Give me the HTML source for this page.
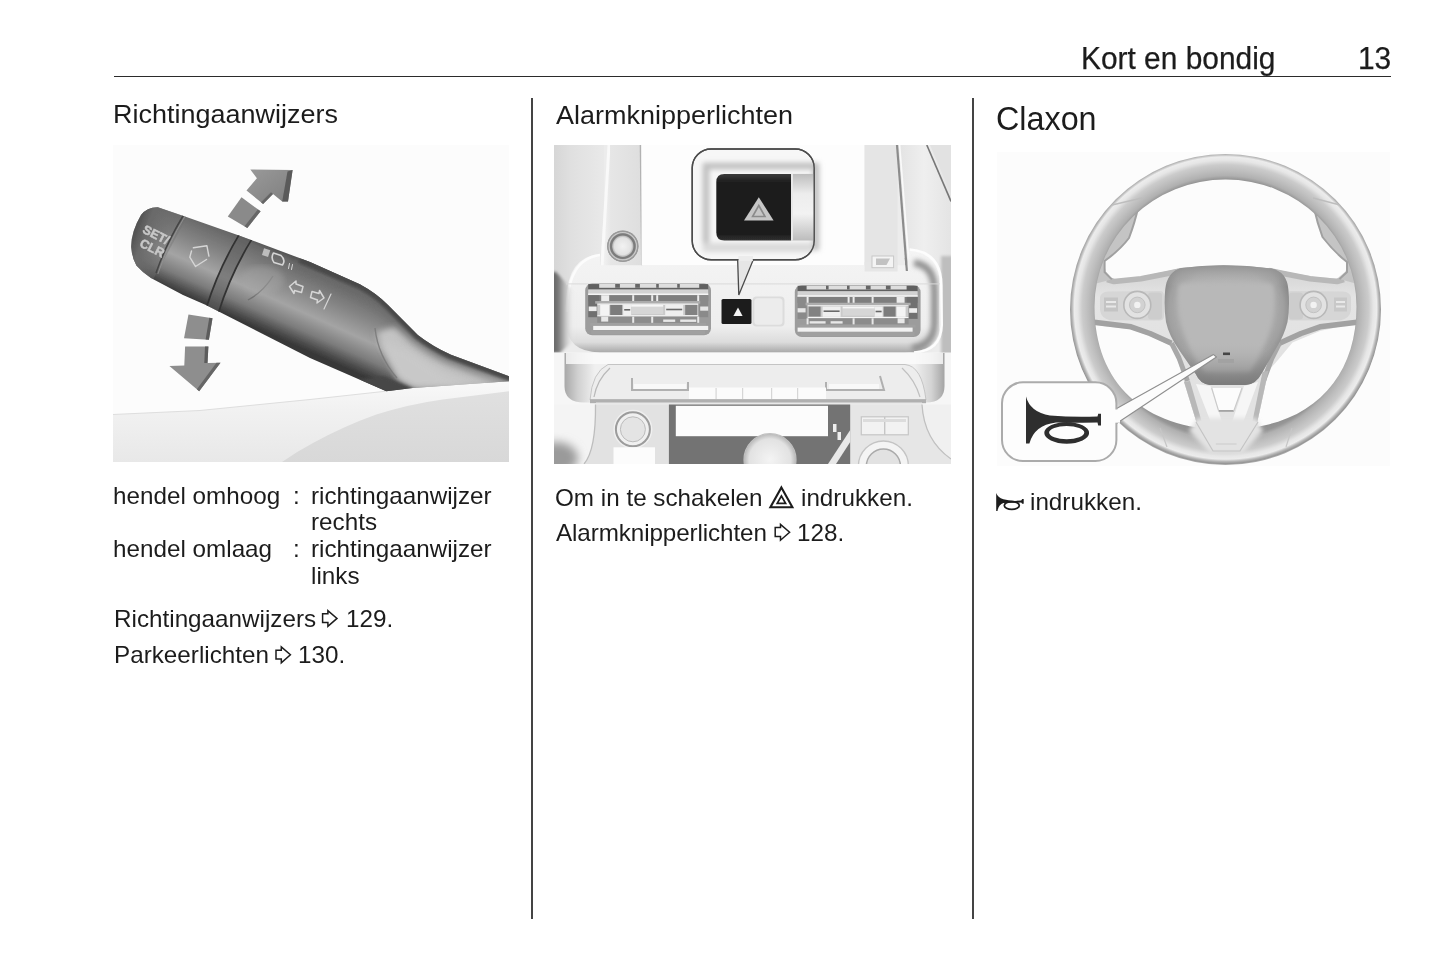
<!DOCTYPE html>
<html lang="nl">
<head>
<meta charset="utf-8">
<title>Kort en bondig 13</title>
<style>
html,body{margin:0;padding:0;background:#fff;}
body{width:1445px;height:965px;position:relative;overflow:hidden;font-family:"Liberation Sans",sans-serif;color:#1c1c1c;}
.t{position:absolute;white-space:nowrap;line-height:1;margin:0;font-weight:normal;transform-origin:0 0;}
.hdr{font-size:31.4px;transform:scaleX(0.952);transform-origin:0 0;-webkit-text-stroke:0.25px #1c1c1c;}
.h2{font-size:26.7px;transform:scaleX(1.011);}
.h1{font-size:32.3px;transform:scaleX(1.0005);}
.b{font-size:23.8px;transform:scaleX(1.019);}
.rule{position:absolute;background:#2b2b2b;}
.img{position:absolute;overflow:hidden;}
svg{display:block;}
#icons{position:absolute;left:0;top:0;pointer-events:none;}
</style>
</head>
<body>
<!-- header -->
<div class="t hdr" id="hd1" style="left:1080.6px;top:42.9px;">Kort en bondig</div>
<div class="t hdr" id="hd2" style="left:1358px;top:42.9px;">13</div>
<div class="rule" style="left:114px;top:75.7px;width:1277px;height:1.6px;"></div>
<!-- column dividers -->
<div class="rule" style="left:531.2px;top:98px;width:1.7px;height:821px;background:#444;"></div>
<div class="rule" style="left:972.2px;top:98px;width:1.7px;height:821px;background:#444;"></div>

<!-- column 1 -->
<h2 class="t h2" id="c1h" style="left:113.2px;top:101.4px;">Richtingaanwijzers</h2>
<div class="img" id="img1" style="left:113px;top:145px;width:396px;height:317px;">
<svg id="s1" viewBox="113 145 396 317" width="396" height="317">
<defs>
<linearGradient id="g1tube" gradientUnits="userSpaceOnUse" x1="277" y1="246" x2="243" y2="322">
<stop offset="0" stop-color="#484848"/><stop offset="0.1" stop-color="#686868"/><stop offset="0.35" stop-color="#848484"/><stop offset="0.6" stop-color="#a4a4a4"/><stop offset="0.8" stop-color="#7c7c7c"/><stop offset="0.94" stop-color="#4a4a4a"/><stop offset="1" stop-color="#383838"/>
</linearGradient>
<linearGradient id="g1base" gradientUnits="userSpaceOnUse" x1="445" y1="351" x2="430.8" y2="383">
<stop offset="0" stop-color="#484848"/><stop offset="0.1" stop-color="#666"/><stop offset="0.32" stop-color="#8c8c8c"/><stop offset="0.62" stop-color="#b0b0b0"/><stop offset="1" stop-color="#c6c6c6"/>
</linearGradient>
<linearGradient id="g1cap" gradientUnits="userSpaceOnUse" x1="131" y1="230" x2="185" y2="250">
<stop offset="0" stop-color="#4a4a4a"/><stop offset="0.25" stop-color="#6a6a6a"/><stop offset="1" stop-color="#6a6a6a" stop-opacity="0"/>
</linearGradient>
<linearGradient id="g1surf" x1="0" y1="0" x2="0" y2="1">
<stop offset="0" stop-color="#f9f9f9"/><stop offset="0.3" stop-color="#f2f2f2"/><stop offset="1" stop-color="#e8e8e8"/>
</linearGradient>
<linearGradient id="g1surf2" x1="0" y1="0" x2="0" y2="1">
<stop offset="0" stop-color="#e0e0e0"/><stop offset="1" stop-color="#d8d8d8"/>
</linearGradient>
<linearGradient id="g1arr" x1="0" y1="0" x2="1" y2="1">
<stop offset="0" stop-color="#9a9a9a"/><stop offset="1" stop-color="#7e7e7e"/>
</linearGradient>
<filter id="b1" x="-5%" y="-5%" width="110%" height="110%"><feGaussianBlur stdDeviation="0.6"/></filter>
<filter id="b15" x="-5%" y="-5%" width="110%" height="110%"><feGaussianBlur stdDeviation="1.8"/></filter>
<filter id="b2" x="-5%" y="-5%" width="110%" height="110%"><feGaussianBlur stdDeviation="3"/></filter>
<clipPath id="c1tube"><path d="M157.8,207.2 L184.3,216.3 L239,235.4 L310,262 L359.8,284.3 Q376,293 388,305 L417.8,334.9 Q432,346 451,354.8 L509,376.3 L509,381.3 L412.8,388 L386.3,391.2 L310,358 L205.9,305 L183,295 L150.9,277.9 Q142,272 136.4,265.5 Q132,258 131.2,247 Q131,232 141,215 Q147,207 157.8,207.2 Z"/></clipPath>
</defs>
<rect x="113" y="145" width="396" height="317" fill="#fcfcfc"/>
<!-- lower surface -->
<path d="M113,414.5 L200,410.5 L310,399.5 L386,391.2 L412.8,388 L509,381.3 L509,462 L113,462 Z" fill="url(#g1surf)"/>
<path d="M113,414.5 L200,410.5 L310,399.5 L386,391.2" fill="none" stroke="#dedede" stroke-width="1"/>
<path d="M282,462 Q296,452 313,443 Q344,426 376.3,414.5 Q410,404 442.7,399.5 L509,391.2 L509,462 Z" fill="url(#g1surf2)"/>
<!-- stalk -->
<g filter="url(#b1)">
<path d="M157.8,207.2 L184.3,216.3 L239,235.4 L310,262 L359.8,284.3 Q376,293 388,305 L417.8,334.9 Q432,346 451,354.8 L509,376.3 L509,381.3 L412.8,388 L386.3,391.2 L310,358 L205.9,305 L183,295 L150.9,277.9 Q142,272 136.4,265.5 Q132,258 131.2,247 Q131,232 141,215 Q147,207 157.8,207.2 Z" fill="url(#g1tube)"/>
<g clip-path="url(#c1tube)">
<path d="M376,333 L399,378 L416,387 L520,386 L520,378 L470,368 L438,356 L412,338 L396,326 Z" fill="#c4c4c4" filter="url(#b2)"/>
<path d="M378,338 L398,380 L412.8,389 L470,386 L440,372 L410,352 Z" fill="#cacaca" opacity="0.7" filter="url(#b2)"/>
<path d="M356,380 L386.3,393 L415,389.2 L402,384 L384,376.5 Z" fill="#474747" filter="url(#b15)"/>
<path d="M300,258.5 L359.8,284.3 Q376,293 388,305 L417.8,334.9 Q432,346 451,354.8 L512,377.5" fill="none" stroke="#6c6c6c" stroke-width="22" opacity="0.55" filter="url(#b2)"/>
<path d="M300,258.5 L359.8,284.3 Q376,293 388,305 L417.8,334.9 Q432,346 451,354.8 L512,377.5" fill="none" stroke="#484848" stroke-width="9" filter="url(#b15)"/>
<path d="M440,392 L520,360 L520,392 Z" fill="#d0d0d0" opacity="0.0"/>
<path d="M120,200 L190,212 L150,285 L120,270 Z" fill="url(#g1cap)"/>
<!-- ring band -->
<path d="M239,234.9 Q218,270 206.6,307 L218.2,313.5 Q230,275 251.4,239.9 Z" fill="#5e5e5e" opacity="0.55"/>
<path d="M183.3,215.5 Q166,244 156,273" fill="none" stroke="#444" stroke-width="1.5"/>
<path d="M185,216.3 Q167.8,244.5 157.8,274" fill="none" stroke="#9a9a9a" stroke-width="1" opacity="0.7"/>
<path d="M239,234.9 Q218,270 206.6,307" fill="none" stroke="#333" stroke-width="1.8"/>
<path d="M251.4,239.9 Q230,275 218.2,313.5" fill="none" stroke="#333" stroke-width="1.8"/>
<!-- seam on lower part -->
<path d="M273,276 Q263,292 248,300" fill="none" stroke="#6a6a6a" stroke-width="1.4" opacity="0.8"/>
<path d="M375,328 Q378,356 397,378" fill="none" stroke="#777" stroke-width="1.4" opacity="0.8"/>
<!-- light patch between ring3 and seam -->
<ellipse cx="262" cy="280" rx="22" ry="14" fill="#a8a8a8" opacity="0.45" filter="url(#b2)"/>
</g>
</g>
<!-- symbols on stalk -->
<g fill="none" stroke="#d6d6d6" stroke-width="1.6" stroke-linejoin="round" stroke-linecap="round">
<path d="M193.4,247.8 L206.9,245.8 L208.9,256.1 M206.5,259.5 L195.5,266.5 L189.8,257.2 L191.5,251" stroke-width="1.4"/>
<rect x="263" y="249" width="6.5" height="7" fill="#bdbdbd" stroke="none" transform="rotate(18 266 252)"/>
<path d="M273.5,253 L281,255.5 Q286,260 282.5,265 L274,262.5 Q270.5,258 273.5,253 Z"/>
<path d="M289.5,263.5 L288.5,268.5 M292.5,264.5 L291.5,269.5" stroke-width="1"/>
<path d="M289.5,286.5 L296,281 L296,284 L303,286.5 L301.5,292.5 L294.5,290.5 L294,293.5 Z" stroke-width="1.5"/>
<path d="M324,298 L317,303 L317.5,300 L310.5,297.5 L312,291.5 L319,293.5 L319.5,290.5 Z" stroke-width="1.5"/>
<path d="M331,294 L324,309" stroke-width="1.2"/>
</g>
<g fill="#c8c8c8" stroke="#c8c8c8" stroke-width="0.5" filter="url(#b1)" font-family="Liberation Sans, sans-serif" font-weight="bold" font-size="12.5">
<text transform="translate(141.8,232.3) rotate(27)">SET/</text>
<text transform="translate(138.8,246) rotate(27)">CLR</text>
</g>
<!-- up arrow -->
<g filter="url(#b1)">
<path d="M250.3,169.5 L292.6,169.9 L288,201.4 L282.2,201.4 L273,193.9 L263.1,203.9 L246.5,190.6 L256.9,178.2 Z" fill="url(#g1arr)"/>
<path d="M292.6,169.9 L288,201.4 L282.2,201.4 L287.5,171.5 Z" fill="#5a5a5a"/>
<path d="M273,193.9 L263.1,203.9 L261,202.3 L271,192.2 Z" fill="#666"/>
<path d="M241.5,197.2 L260.6,211.3 L247.3,227.9 L227.8,216.6 Z" fill="#8a8a8a"/>
<path d="M260.6,211.3 L247.3,227.9 L244.5,226.3 L257.8,209.5 Z" fill="#666"/>
<!-- down arrow -->
<path d="M188.5,314.6 L212.5,318.3 L208.9,339.8 L184,338.2 Z" fill="#8e8e8e"/>
<path d="M212.5,318.3 L208.9,339.8 L205.6,339.6 L209.3,317.8 Z" fill="#5c5c5c"/>
<path d="M185.1,346.5 L208.4,346.5 L207.5,363 L220.5,362.7 L199.2,391.2 L169.4,366 L184.3,365.5 Z" fill="#8e8e8e"/>
<path d="M208.4,346.5 L207.5,363 L204.3,363 L205,346.5 Z" fill="#5c5c5c"/>
<path d="M220.5,362.7 L199.2,391.2 L196.8,389.2 L216.5,362.8 Z" fill="#666"/>
</g>
</svg>

</div>
<div class="t b" id="c1a" style="left:113.4px;top:483.6px;">hendel omhoog</div>
<div class="t b" id="c1b" style="left:293px;top:483.6px;">:</div>
<div class="t b" id="c1c" style="left:311px;top:483.6px;">richtingaanwijzer</div>
<div class="t b" id="c1d" style="left:311px;top:509.9px;">rechts</div>
<div class="t b" id="c1e" style="left:113.4px;top:537.2px;">hendel omlaag</div>
<div class="t b" id="c1f" style="left:293px;top:537.2px;">:</div>
<div class="t b" id="c1g" style="left:311px;top:537.2px;">richtingaanwijzer</div>
<div class="t b" id="c1h2" style="left:311px;top:563.9px;">links</div>
<div class="t b" id="c1i" style="left:113.5px;top:607.1px;">Richtingaanwijzers</div>
<div class="t b" id="c1j" style="left:345.5px;top:607.1px;">129.</div>
<div class="t b" id="c1k" style="left:113.5px;top:643.4px;">Parkeerlichten</div>
<div class="t b" id="c1l" style="left:298px;top:643.4px;">130.</div>

<!-- column 2 -->
<h2 class="t h2" id="c2h" style="left:555.5px;top:101.8px;">Alarmknipperlichten</h2>
<div class="img" id="img2" style="left:554px;top:145px;width:397px;height:319px;background:#ddd;">
<svg id="s2" viewBox="554 145 397 319" width="397" height="319">
<defs>
<linearGradient id="g2left" x1="0" y1="0" x2="1" y2="0"><stop offset="0" stop-color="#d6d6d6"/><stop offset="0.35" stop-color="#e0e0e0"/><stop offset="1" stop-color="#e9e9e9"/></linearGradient>
<linearGradient id="g2strip" x1="0" y1="0" x2="1" y2="0"><stop offset="0" stop-color="#f6f6f6"/><stop offset="0.25" stop-color="#e6e6e6"/><stop offset="1" stop-color="#dedede"/></linearGradient>
<linearGradient id="g2right" x1="0" y1="0" x2="1" y2="0"><stop offset="0" stop-color="#e2e2e2"/><stop offset="0.5" stop-color="#efefef"/><stop offset="1" stop-color="#e4e4e4"/></linearGradient>
<linearGradient id="g2panel" x1="0" y1="0" x2="0" y2="1"><stop offset="0" stop-color="#f4f4f4"/><stop offset="0.75" stop-color="#eeeeee"/><stop offset="0.9" stop-color="#dcdcdc"/><stop offset="1" stop-color="#a8a8a8"/></linearGradient>
<linearGradient id="g2vent" x1="0" y1="0" x2="0" y2="1"><stop offset="0" stop-color="#7a7a7a"/><stop offset="0.5" stop-color="#a6a6a6"/><stop offset="1" stop-color="#9a9a9a"/></linearGradient>
<linearGradient id="g2metal" x1="0" y1="0" x2="0" y2="1"><stop offset="0" stop-color="#bdbdbd"/><stop offset="0.3" stop-color="#ededed"/><stop offset="0.6" stop-color="#f2f2f2"/><stop offset="1" stop-color="#bcbcbc"/></linearGradient>
<linearGradient id="g2btn" x1="0" y1="0" x2="0" y2="1"><stop offset="0" stop-color="#3a3a3a"/><stop offset="0.12" stop-color="#1f1f1f"/><stop offset="0.9" stop-color="#1c1c1c"/><stop offset="1" stop-color="#333"/></linearGradient>
<radialGradient id="g2knob"><stop offset="0" stop-color="#f2f2f2"/><stop offset="0.55" stop-color="#e2e2e2"/><stop offset="0.75" stop-color="#9a9a9a"/><stop offset="0.9" stop-color="#cfcfcf"/><stop offset="1" stop-color="#8a8a8a"/></radialGradient>
<radialGradient id="g2gear"><stop offset="0" stop-color="#f4f4f4"/><stop offset="0.8" stop-color="#e2e2e2"/><stop offset="1" stop-color="#b8b8b8"/></radialGradient>
<linearGradient id="g2shl" x1="0" y1="0" x2="1" y2="0"><stop offset="0" stop-color="#5c5c5c"/><stop offset="0.38" stop-color="#747474"/><stop offset="0.62" stop-color="#b4b4b4"/><stop offset="1" stop-color="#e8e8e8" stop-opacity="0"/></linearGradient>
<linearGradient id="g2shr" x1="1" y1="0" x2="0" y2="0"><stop offset="0" stop-color="#a0a0a0"/><stop offset="0.5" stop-color="#c8c8c8"/><stop offset="1" stop-color="#e8e8e8" stop-opacity="0"/></linearGradient>
<linearGradient id="g2tray" x1="0" y1="0" x2="1" y2="0"><stop offset="0" stop-color="#a8a8a8"/><stop offset="0.035" stop-color="#d0d0d0"/><stop offset="0.08" stop-color="#f0f0f0"/><stop offset="0.92" stop-color="#f0f0f0"/><stop offset="0.965" stop-color="#d4d4d4"/><stop offset="1" stop-color="#a4a4a4"/></linearGradient>
<filter id="b2a" x="-10%" y="-10%" width="120%" height="120%"><feGaussianBlur stdDeviation="0.7"/></filter>
<filter id="b2d" x="-20%" y="-20%" width="140%" height="140%"><feGaussianBlur stdDeviation="1.6"/></filter>
<filter id="b2b" x="-20%" y="-20%" width="140%" height="140%"><feGaussianBlur stdDeviation="2.5"/></filter>
<filter id="b2c" x="-30%" y="-30%" width="160%" height="160%"><feGaussianBlur stdDeviation="5"/></filter>
<g id="vent">
<rect x="0" y="0" width="125.8" height="51.8" rx="7" fill="#9c9c9c"/>
<rect x="3" y="0.6" width="120" height="5.4" fill="#606060"/>
<rect x="14" y="0.5" width="100" height="3.8" fill="#dedede"/>
<g fill="#666"><rect x="30" y="0.5" width="4.7" height="3.8"/><rect x="50" y="0.5" width="4.7" height="3.8"/><rect x="71" y="0.5" width="2.6" height="3.8"/><rect x="92" y="0.5" width="2.6" height="3.8"/></g>
<rect x="3" y="6" width="120" height="5.6" fill="#d2d2d2"/>
<rect x="3" y="10" width="120" height="1.7" fill="#f4f4f4"/>
<rect x="3" y="11.7" width="120" height="6" fill="#7e7e7e"/>
<rect x="3" y="11.7" width="11" height="22" fill="#707070"/>
<rect x="114" y="11.7" width="9" height="22" fill="#8a8a8a"/>
<g fill="#ececec"><rect x="16" y="11.7" width="8" height="6"/><rect x="47" y="11.7" width="2" height="6"/><rect x="66" y="11.7" width="2" height="6"/><rect x="71" y="11.7" width="2" height="6"/><rect x="112" y="11.7" width="2" height="6"/></g>
<rect x="10" y="17.6" width="105" height="2.6" fill="#adadad"/>
<rect x="12" y="20" width="101" height="1.4" fill="#f6f6f6"/>
<rect x="12" y="21.4" width="101" height="10.2" fill="#cacaca"/>
<rect x="25" y="21.4" width="12" height="10.2" fill="#7c7c7c"/><rect x="100" y="21.4" width="12" height="10.2" fill="#828282"/>
<rect x="15" y="21.4" width="9" height="10.2" fill="#f4f4f4"/>
<rect x="38" y="21.4" width="8" height="10.2" fill="#f0f0f0"/><rect x="39" y="25.5" width="6" height="1.6" fill="#666"/>
<rect x="46" y="23" width="32" height="7.5" fill="#d6d6d6"/><rect x="46" y="21.4" width="32" height="1.8" fill="#f6f6f6"/>
<rect x="80" y="21.4" width="18" height="10.2" fill="#efefef"/><rect x="81" y="25.2" width="16" height="1.6" fill="#6a6a6a"/>
<rect x="3.5" y="23" width="8" height="4.6" fill="#eeeeee"/><rect x="115" y="23" width="8" height="4.2" fill="#e6e6e6"/>
<rect x="12" y="31.6" width="101" height="1.5" fill="#f6f6f6"/>
<rect x="12" y="33.1" width="101" height="6.3" fill="#8c8c8c"/>
<g fill="#e8e8e8"><rect x="16" y="33.1" width="7" height="5"/><rect x="47" y="33.1" width="2" height="6.3"/><rect x="66" y="33.1" width="2" height="6.3"/><rect x="78" y="36" width="12" height="2.4"/><rect x="95" y="36" width="16" height="2.4"/><rect x="112" y="33.1" width="2" height="6.3"/></g>
<rect x="5" y="39.4" width="116" height="3" fill="#a0a0a0"/>
<rect x="8" y="42.4" width="115" height="4.1" fill="#f2f2f2"/>
<rect x="6" y="46.8" width="114" height="4" fill="#a0a0a0"/>
</g>
</defs>
<rect x="554" y="145" width="397" height="319" fill="#ececec"/>
<!-- top zone -->
<rect x="554" y="145" width="50" height="160" fill="url(#g2left)"/>
<path d="M607.6,145 L640.6,145 L642,267 L600.6,267 Z" fill="url(#g2strip)"/>
<path d="M640.4,145 L641.8,266" stroke="#b2b2b2" stroke-width="1.4" fill="none"/>
<path d="M609,145 L602,266" stroke="#f9f9f9" stroke-width="3" fill="none" filter="url(#b2a)"/>
<rect x="641.5" y="145" width="223" height="120.5" fill="#fdfdfd"/>
<rect x="864.6" y="145" width="33" height="126" fill="#e5e5e5"/>
<path d="M897,145 L951,145 L951,290 L907,271 Z" fill="url(#g2right)"/>
<path d="M897,145 L906.9,271" stroke="#8c8c8c" stroke-width="2.2" fill="none"/>
<path d="M899.6,145 L909.4,268" stroke="#fafafa" stroke-width="1.6" fill="none"/>
<path d="M926.8,145 L951,201.4" stroke="#777" stroke-width="1.6" fill="none"/>
<path d="M930,145 L951,194 L951,145 Z" fill="#e2e2e2"/>
<!-- vent panel -->
<g filter="url(#b2a)">
<path d="M566.5,300 Q567,257 600,254 L600.5,265.3 L907,265.3 L909.6,249.5 Q941,252 941,288 L940,322 Q940,352 905,352.5 L600,352.5 Q566,352 566.5,322 Z" fill="url(#g2panel)"/>
<path d="M566.8,312 Q567,259 600,255" fill="none" stroke="#fcfcfc" stroke-width="2.5"/>
</g>
<path d="M548,272 L556,272 L574,292 L574,340 L560,353 L548,353 Z" fill="url(#g2shl)" filter="url(#b2d)"/>
<rect x="941" y="256" width="12" height="100" fill="#bebebe" filter="url(#b2d)"/>
<path d="M914,263 Q934.5,265 934.5,292 L934.5,322 Q934.5,345 912,348.5" fill="none" stroke="#909090" stroke-width="7" filter="url(#b2b)"/>
<path d="M909.6,249.5 Q941,252 941.3,285 L941.7,325 Q941,351 914,352.5" fill="none" stroke="#fdfdfd" stroke-width="2.6" filter="url(#b2a)"/>
<rect x="566" y="283.4" width="374" height="1" fill="#dadada"/>
<rect x="864.6" y="262" width="33" height="9.5" fill="#e6e6e6"/>
<path d="M905.8,258 L906.9,271" stroke="#8c8c8c" stroke-width="2.2" fill="none"/>
<g filter="url(#b2a)">
<circle cx="622.8" cy="246.2" r="15.5" fill="url(#g2knob)"/>
<circle cx="622.8" cy="246.2" r="11.8" fill="none" stroke="#7c7c7c" stroke-width="2.2"/>
<circle cx="622.8" cy="246.2" r="15" fill="none" stroke="#9a9a9a" stroke-width="1.4"/>
<rect x="872" y="256" width="21.6" height="11.7" fill="#f4f4f4" stroke="#c8c8c8" stroke-width="1"/>
<path d="M876,258.5 L890,258.5 L886.5,265 L876,265 Z" fill="#c2c2c2"/>
</g>
<g filter="url(#b2a)">
<use href="#vent" x="585.2" y="283.5"/>
<use href="#vent" x="0" y="0" transform="translate(920.6,285.2) scale(-1,1)"/>
<rect x="721.5" y="299" width="30" height="25" rx="1.5" fill="#1e1e1e"/>
<path d="M738,307.5 L742.6,316 L733.4,316 Z" fill="#f4f4f4"/>
<rect x="752.5" y="296.5" width="32" height="30" rx="4" fill="#dcdcdc"/>
<rect x="754.3" y="298.2" width="28.2" height="26.6" rx="3.5" fill="#ececec"/>
</g>
<!-- band + radio -->
<rect x="554" y="352.5" width="397" height="53" fill="#f6f6f6"/>
<path d="M564.5,353 L944.5,353 L944.5,386 Q944.5,402.5 926,402.5 L584,402.5 Q564.5,402.5 564.5,386 Z" fill="url(#g2tray)" filter="url(#b2a)"/>
<rect x="566" y="353" width="377" height="11" fill="#fbfbfb" opacity="0.8"/>
<g filter="url(#b2a)">
<path d="M608,364.5 L905,364.5 Q922,366 926,400 L590,400 Q592,372 608,364.5 Z" fill="#ededed" stroke="#c4c4c4" stroke-width="1"/>
<rect x="590" y="399.2" width="336" height="4" fill="#b0b0b0"/>
<rect x="596" y="402.5" width="326" height="2" fill="#e8e8e8"/>
<path d="M632,378 L632,390 L688,390 L688,382" fill="none" stroke="#b0b0b0" stroke-width="2"/>
<rect x="634" y="384" width="52" height="5" fill="#f8f8f8"/>
<path d="M826,382 L826,390 L884,390 L880,376" fill="none" stroke="#b0b0b0" stroke-width="2"/>
<rect x="829" y="384" width="50" height="5" fill="#f8f8f8"/>
<rect x="689" y="387.5" width="137" height="11.5" fill="#fbfbfb"/>
<g fill="#d6d6d6"><rect x="715.5" y="388" width="1.2" height="11"/><rect x="742" y="388" width="1.2" height="11"/><rect x="771" y="388" width="1.2" height="11"/><rect x="797" y="388" width="1.2" height="11"/></g>
<path d="M610,368 Q597,380 594,397" fill="none" stroke="#b8b8b8" stroke-width="1.2"/>
<path d="M902,368 Q915,380 920,397" fill="none" stroke="#c0c0c0" stroke-width="1.2"/>
</g>
<!-- bottom zone -->
<rect x="554" y="404.5" width="42" height="60" fill="#f4f4f4"/>
<ellipse cx="556" cy="458" rx="22" ry="16" fill="#9a9a9a" filter="url(#b2c)"/>
<rect x="922" y="404.5" width="29" height="60" fill="#f0f0f0"/>
<g filter="url(#b2a)">
<path d="M595.5,404.5 L669,404.5 L669,464 L584,464 Q596,450 595.5,404.5 Z" fill="#e2e2e2"/>
<path d="M595.5,404.5 Q596,450 584,464" fill="none" stroke="#bdbdbd" stroke-width="1.3"/>
<path d="M850.2,404.5 L922,404.5 Q924,440 951,459 L951,464 L836,464 L850.2,440 Z" fill="#e6e6e6"/>
<path d="M922,404.5 Q924,440 951,459" fill="none" stroke="#c0c0c0" stroke-width="1.3"/>
<rect x="668.9" y="404.5" width="181.3" height="59.5" fill="#737373"/>
<rect x="675.8" y="405.8" width="152.2" height="30.4" fill="#fcfcfc"/>
<path d="M850.2,430 L828,464 L836,464 L850.2,442 Z" fill="#e8e8e8"/>
<rect x="833" y="424" width="3.5" height="8" fill="#eee"/><rect x="837.5" y="432" width="3.5" height="8" fill="#eee"/>
<circle cx="770" cy="459.7" r="26" fill="url(#g2gear)"/>
<circle cx="770" cy="459.7" r="26" fill="none" stroke="#c0c0c0" stroke-width="1.2"/>
<circle cx="632.9" cy="429.3" r="19.5" fill="#f0f0f0"/>
<circle cx="632.9" cy="429.3" r="17" fill="none" stroke="#9c9c9c" stroke-width="2"/>
<circle cx="632.9" cy="429.3" r="12.5" fill="#e4e4e4" stroke="#bcbcbc" stroke-width="1"/>
<rect x="613.5" y="447.3" width="41.5" height="17" fill="#fcfcfc"/>
<rect x="861.3" y="416.8" width="47" height="18" fill="#f2f2f2" stroke="#c6c6c6" stroke-width="1.2"/>
<rect x="884" y="416.8" width="1.4" height="18" fill="#c6c6c6"/>
<rect x="863" y="419" width="43" height="3" fill="#dcdcdc"/>
<circle cx="883.4" cy="466" r="25" fill="#f4f4f4" stroke="#c4c4c4" stroke-width="1.3"/>
<circle cx="883.4" cy="466" r="17" fill="#e2e2e2" stroke="#aaa" stroke-width="1.5"/>
</g>
<!-- callout -->
<g>
<path d="M737.6,258 L738.8,295.1 L754,258 Z" fill="#e6e6e6" stroke="#4a4a4a" stroke-width="1.3" stroke-linejoin="miter"/>
<rect x="692.2" y="149" width="122" height="110.8" rx="19" fill="#f7f7f7" stroke="#4c4c4c" stroke-width="1.4"/>
<rect x="738.4" y="256" width="14.6" height="4.8" fill="#ececec"/>
<g filter="url(#b2b)">
<path d="M706,166 L816,166 L816,247 L706,247 Z" fill="none" stroke="#c0c0c0" stroke-width="6.5"/>
<rect x="703" y="243" width="110" height="9" fill="#dadada"/>
</g>
<rect x="693" y="160" width="121" height="90" fill="none"/>
<g filter="url(#b2a)">
<path d="M724.3,173.9 L791,173.9 L791,240.5 L724.3,240.5 Q716.3,240.5 716.3,232.5 L716.3,181.9 Q716.3,173.9 724.3,173.9 Z" fill="url(#g2btn)"/>
<rect x="791" y="173.9" width="23" height="66.6" fill="url(#g2metal)"/>
<rect x="791" y="173.9" width="2" height="66.6" fill="#e8e8e8"/>
<path d="M758.8,197.2 L773.6,220.5 L744,220.5 Z" fill="#c6c6c6"/>
<path d="M758.8,205.5 L765,216.5 L752.6,216.5 Z" fill="none" stroke="#8a8a8a" stroke-width="1.6"/>
</g>
<rect x="692.2" y="149" width="122" height="110.8" rx="19" fill="none" stroke="#4c4c4c" stroke-width="1.4"/>
<rect x="738.6" y="257.5" width="14.2" height="3.6" fill="#ececec"/>
</g>
</svg>

</div>
<div class="t b" id="c2a" style="left:555px;top:485.5px;">Om in te schakelen</div>
<div class="t b" id="c2b" style="left:800.5px;top:485.5px;">indrukken.</div>
<div class="t b" id="c2c" style="left:556px;top:520.9px;letter-spacing:-0.11px;">Alarmknipperlichten</div>
<div class="t b" id="c2d" style="left:797px;top:520.9px;">128.</div>

<!-- column 3 -->
<h1 class="t h1" id="c3h" style="left:995.8px;top:102.5px;">Claxon</h1>
<div class="img" id="img3" style="left:997px;top:152px;width:393px;height:314px;background:#fcfcfc;">
<svg id="s3" viewBox="997 152 393 314" width="393" height="314">
<defs>
<radialGradient id="g3rim" gradientUnits="userSpaceOnUse" cx="1225.5" cy="308" r="156.5">
<stop offset="0.79" stop-color="#8e8e8e"/><stop offset="0.824" stop-color="#969696"/><stop offset="0.846" stop-color="#b0b0b0"/><stop offset="0.88" stop-color="#bebebe"/><stop offset="0.915" stop-color="#cbcbcb"/><stop offset="0.945" stop-color="#e6e6e6"/><stop offset="0.966" stop-color="#ececec"/><stop offset="0.981" stop-color="#b6b6b6"/><stop offset="0.994" stop-color="#969696"/><stop offset="1" stop-color="#a8a8a8"/>
</radialGradient>
<radialGradient id="g3hub" gradientUnits="userSpaceOnUse" cx="1226" cy="312" r="70" fx="1226" fy="300">
<stop offset="0" stop-color="#bcbcbc"/><stop offset="0.6" stop-color="#b2b2b2"/><stop offset="0.82" stop-color="#a0a0a0"/><stop offset="1" stop-color="#7e7e7e"/>
</radialGradient>
<linearGradient id="g3hubb" x1="0" y1="0" x2="0" y2="1"><stop offset="0" stop-color="#909090" stop-opacity="0.9"/><stop offset="0.18" stop-color="#b0b0b0" stop-opacity="0"/><stop offset="0.65" stop-color="#b0b0b0" stop-opacity="0"/><stop offset="1" stop-color="#7a7a7a" stop-opacity="0.95"/></linearGradient>
<linearGradient id="g3sp" x1="0" y1="0" x2="0" y2="1"><stop offset="0" stop-color="#cfcfcf"/><stop offset="0.2" stop-color="#e4e4e4"/><stop offset="0.75" stop-color="#e0e0e0"/><stop offset="1" stop-color="#c6c6c6"/></linearGradient>
<filter id="b3a" x="-5%" y="-5%" width="110%" height="110%"><feGaussianBlur stdDeviation="0.6"/></filter>
<filter id="b3b" x="-20%" y="-20%" width="140%" height="140%"><feGaussianBlur stdDeviation="2.2"/></filter>
<clipPath id="c3"><rect x="997" y="152" width="393" height="314"/></clipPath>
</defs>
<rect x="997" y="152" width="393" height="314" fill="#fcfcfc"/>
<g clip-path="url(#c3)">
<g filter="url(#b3a)">
<!-- spokes -->
<path d="M1090,262 L1104,264 L1106,272 L1113,279.4 L1140,277 L1165,271.5 L1181.4,268 L1224.5,265.3 L1271.3,268.5 L1290,272.5 L1315,277 L1337,278.5 L1345,272 L1349,264.4 L1365,262 L1365,322 L1352,324 L1320,331 L1292.5,342.5 L1278,360 L1268.4,370.8 L1257.3,422 L1262,440 L1190,440 L1196.4,422 L1184,381.8 L1177,358 L1170.6,345.4 L1150,336 L1131,329.2 L1098.6,325.6 L1090,324 Z" fill="url(#g3sp)"/>
<path d="M1184,381.8 L1196.4,422 L1190,445 L1262,445 L1257.3,422 L1268.4,370.8 Z" fill="#e2e2e2"/>
<!-- shading on spokes -->
<path d="M1107,279.5 L1114,281.5 L1141,278.8 L1169,273.3 L1182,270.5" fill="none" stroke="#b8b8b8" stroke-width="5.5" stroke-linejoin="round"/>
<path d="M1344,279.5 L1337,281.5 L1310,278.8 L1282,273.3 L1269,270.5" fill="none" stroke="#b8b8b8" stroke-width="5.5" stroke-linejoin="round"/>
<path d="M1094,322.3 L1131,326.8 L1150,333.5 L1171.5,343.2" fill="none" stroke="#a2a2a2" stroke-width="5.5" stroke-linejoin="round"/>
<path d="M1357,322.3 L1320,326.8 L1301,333.5 L1279.5,343.2" fill="none" stroke="#a2a2a2" stroke-width="5.5" stroke-linejoin="round"/>
<path d="M1171.5,343.2 L1179,358 L1187.5,381" fill="none" stroke="#a8a8a8" stroke-width="5" stroke-linejoin="round"/>
<path d="M1279.5,343.2 L1272,358 L1263.5,381" fill="none" stroke="#a8a8a8" stroke-width="5" stroke-linejoin="round"/>
<path d="M1184,381.8 L1196.4,422 L1201.5,421 L1190,381 Z" fill="#b8b8b8"/>
<path d="M1268.4,370.8 L1257.3,422 L1252.5,421 L1262.5,372 Z" fill="#b8b8b8"/>
<path d="M1196,384 L1210.5,386 L1224,428 L1213,428 Z" fill="#f6f6f6"/>
<path d="M1258,382 L1244,386 L1230,428 L1241,428 Z" fill="#f6f6f6"/>
<!-- thumb bulges -->
<path d="M1138,208 Q1135,222 1129,238 Q1120,250 1104.6,261 L1104.6,272 L1111.8,279.4 L1090,285 L1106,219 Z" fill="#c4c4c4"/>
<path d="M1138,208 Q1135,222 1129,238 Q1120,250 1104.6,261 L1104.6,272 L1111.8,279.4" fill="none" stroke="#a0a0a0" stroke-width="2"/>
<path d="M1314,208 Q1317,222 1322.5,237 Q1334,252 1347,262 L1347,272 L1339.5,279 L1361,285 L1345,219 Z" fill="#c4c4c4"/>
<path d="M1314,208 Q1317,222 1322.5,237 Q1334,252 1347,262 L1347,272 L1339.5,279" fill="none" stroke="#a0a0a0" stroke-width="2"/>
<!-- rim -->
<path fill-rule="evenodd" fill="url(#g3rim)" d="M1070,309.5 a155.5,155.5 0 1,0 311,0 a155.5,155.5 0 1,0 -311,0 Z M1094.5,306.5 A131,127 0 0 1 1356.5,306.5 C1356.5,382.8 1306.7,429.5 1225.5,429.5 C1144.3,429.5 1094.5,382.8 1094.5,306.5 Z"/>
<!-- rim seams -->
<path d="M1112,205 L1142,198" stroke="#bdbdbd" stroke-width="1.3" fill="none"/>
<path d="M1340,205 L1313,198" stroke="#bdbdbd" stroke-width="1.3" fill="none"/>
<path d="M1160,428 L1167,447 M1292,428 L1286,447" stroke="#c6c6c6" stroke-width="1.2" fill="none"/>
<!-- lower spoke-to-rim blend -->
<path d="M1197.5,418 L1256,418 L1263,431 L1243,453 L1210,453 L1189,431 Z" fill="#e3e3e3" filter="url(#b3b)"/>
<path d="M1196,422 L1213,451 L1240,451 L1258,422" stroke="#c4c4c4" stroke-width="1.2" fill="none"/>
<path d="M1215.8,444 L1236.6,444" stroke="#cfcfcf" stroke-width="1.2" fill="none"/>
<!-- white triangle cutout -->
<path d="M1211.7,388 L1242,388 L1233.8,410.9 L1218.6,410.9 Z" fill="#fcfcfc"/>
<path d="M1218.6,410.9 L1233.8,410.9" stroke="#9a9a9a" stroke-width="1.6"/>
<path d="M1211.7,388 L1218.6,410.9 M1242,388 L1233.8,410.9" stroke="#cacaca" stroke-width="1.2"/>
<!-- button pods -->
<path d="M1100,297 Q1101,292 1108,291.4 L1160,291 Q1164,291 1164,296 L1164,316 Q1164,320.5 1159,320.5 L1110,320.2 Q1101,318 1100,310 Z" fill="#d6d6d6"/>
<rect x="1104" y="297.5" width="14" height="14" fill="#c4c4c4"/>
<rect x="1106" y="301" width="10" height="2" fill="#e8e8e8"/><rect x="1106" y="305.5" width="10" height="2" fill="#e8e8e8"/>
<rect x="1148" y="292.5" width="14" height="27" rx="3" fill="#cdcdcd"/>
<circle cx="1137.3" cy="304.9" r="13.5" fill="#e2e2e2" stroke="#b8b8b8" stroke-width="1.6"/>
<circle cx="1137.3" cy="304.9" r="7.8" fill="#d2d2d2" stroke="#c2c2c2" stroke-width="1"/>
<circle cx="1137.3" cy="304.9" r="3.2" fill="#f2f2f2"/>
<path d="M1351,297 Q1350,292 1343,291.4 L1291,291 Q1287,291 1287,296 L1287,316 Q1287,320.5 1292,320.5 L1341,320.2 Q1350,318 1351,310 Z" fill="#d6d6d6"/>
<rect x="1334" y="297.5" width="13" height="14" fill="#c8c8c8"/>
<rect x="1336" y="301" width="9" height="2" fill="#e8e8e8"/><rect x="1336" y="305.5" width="9" height="2" fill="#e8e8e8"/>
<rect x="1289" y="292.5" width="14" height="27" rx="3" fill="#cdcdcd"/>
<circle cx="1313.6" cy="304.9" r="13.5" fill="#e2e2e2" stroke="#b8b8b8" stroke-width="1.6"/>
<circle cx="1313.6" cy="304.9" r="7.8" fill="#d2d2d2" stroke="#c2c2c2" stroke-width="1"/>
<circle cx="1313.6" cy="304.9" r="3.2" fill="#f2f2f2"/>
<!-- hub -->
<path id="hubp" d="M1181.4,268 Q1224.5,262.5 1271.3,268.5 Q1287,272 1288.4,289.6 Q1290,308 1287.5,322 Q1284,336 1276.7,347.2 L1262.3,372.3 Q1256,385 1245,385 L1210,385 Q1200,384 1195.8,374.1 L1179.6,350.8 Q1169,336 1166,322 Q1163.5,306 1165.2,289.6 Q1167,272 1181.4,268 Z" fill="url(#g3hub)"/>
<path d="M1183,283 Q1224.5,279 1269,283 Q1274,284 1274,290 Q1276,315 1268,336 Q1260,356 1250,372 L1205,372 Q1192,356 1185,336 Q1176,312 1178,290 Q1178,284 1183,283 Z" fill="#b8b8b8" filter="url(#b3b)"/>
<path d="M1181.4,268 Q1224.5,262.5 1271.3,268.5 Q1287,272 1288.4,289.6 Q1290,308 1287.5,322 Q1284,336 1276.7,347.2 L1262.3,372.3 Q1256,385 1245,385 L1210,385 Q1200,384 1195.8,374.1 L1179.6,350.8 Q1169,336 1166,322 Q1163.5,306 1165.2,289.6 Q1167,272 1181.4,268 Z" fill="url(#g3hubb)"/>
<rect x="1223" y="352.5" width="7" height="2.6" fill="#444"/>
<rect x="1218" y="359" width="16" height="4" fill="#a2a2a2"/>
</g>
<!-- leader lines -->
<path d="M1113,410.5 L1213.5,354.6 L1216.5,357 L1115,424.5 Z" fill="#fcfcfc" stroke="#8e8e8e" stroke-width="1.1" stroke-linejoin="round"/>
<!-- callout -->
<rect x="1002" y="382.3" width="114.4" height="78.7" rx="21" fill="#fdfdfd" stroke="#ababab" stroke-width="2"/>
<rect x="1110" y="409.5" width="10" height="13.2" fill="#fdfdfd"/>
<g fill="#2e2e2e" filter="url(#b3a)">
<path d="M1026,396.4 Q1030,412 1050,415.5 Q1075,417.5 1097.5,416.4 L1098.2,413.8 L1101,413.8 L1101,425.4 L1098.2,425.4 L1097.5,422.6 Q1075,422.8 1056,422.4 Q1034,425 1029.4,443.6 L1026,443.6 Z"/>
<path fill-rule="evenodd" d="M1044.3,432.9 a22.4,10.8 0 1,0 44.8,0 a22.4,10.8 0 1,0 -44.8,0 Z M1049.1,432.6 a17.6,6.6 0 1,1 35.2,0 a17.6,6.6 0 1,1 -35.2,0 Z"/>
</g>
</g>
</svg>

</div>
<div class="t b" id="c3a" style="left:1029.5px;top:489.6px;">indrukken.</div>

<!-- inline icons (page coordinates) -->
<svg id="icons" width="1445" height="965" viewBox="0 0 1445 965">
<defs>
<path id="xarr" d="M0.8,4.7 L6.1,4.7 L6.1,1.5 L15.2,9.3 L6.1,17.3 L6.1,13.5 L0.8,13.5 Z" fill="none" stroke="#1c1c1c" stroke-width="1.5" stroke-linejoin="miter"/>
</defs>
<use href="#xarr" x="321.8" y="609.1"/>
<use href="#xarr" x="275.2" y="645.5"/>
<use href="#xarr" x="774.4" y="522.9"/>
<!-- hazard triangle -->
<path d="M781.4,487.4 L792.4,507.2 L770.4,507.2 Z" fill="none" stroke="#1c1c1c" stroke-width="2.1" stroke-linejoin="miter"/>
<path d="M781.4,496 L785.6,503.3 L777.2,503.3 Z" fill="none" stroke="#1c1c1c" stroke-width="1.7" stroke-linejoin="miter"/>
<!-- horn -->
<path d="M996.2,492.9 Q997.6,497.2 1003.4,499.2 Q1008,500.5 1014.9,500.9 L1021.2,500.4 L1022.2,499.1 L1023.7,499.1 L1023.7,503.7 L1022.2,503.7 L1021.2,502.4 L1014.9,502.8 Q1008,502.7 1003.4,503.1 Q998.6,504.8 997.5,510.9 L996.2,510.9 Z" fill="#1c1c1c"/>
<ellipse cx="1011.8" cy="505.5" rx="7.5" ry="3.9" fill="none" stroke="#1c1c1c" stroke-width="1.75"/>
</svg>
</body>
</html>
